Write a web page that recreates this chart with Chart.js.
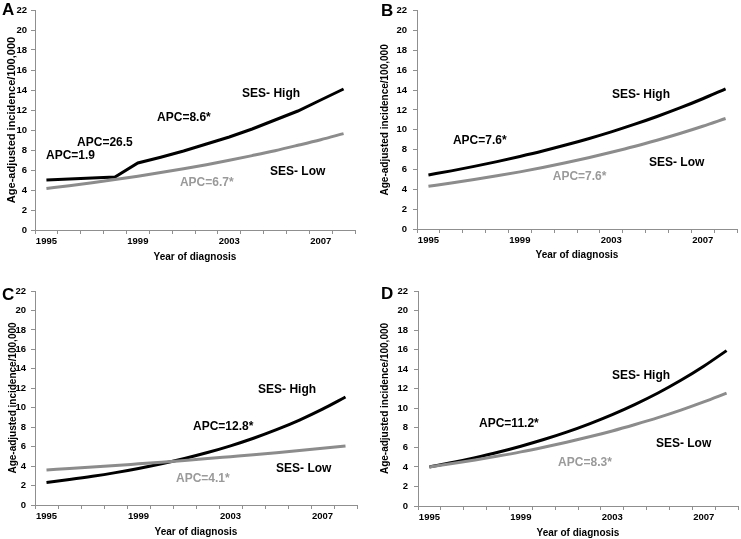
<!DOCTYPE html>
<html><head><meta charset="utf-8">
<script src="https://cdn.jsdelivr.net/npm/chart.js@4.4.1/dist/chart.umd.min.js"></script>
<style>
html,body{margin:0;padding:0;background:#fff;width:741px;height:539px;overflow:hidden;}
.p{position:absolute;}
canvas{display:block;}
</style></head><body>
<div class="p" style="left:0;top:0;"><canvas id="cA" width="370" height="270"></canvas></div>
<div class="p" style="left:370px;top:0;"><canvas id="cB" width="371" height="270"></canvas></div>
<div class="p" style="left:0;top:270px;"><canvas id="cC" width="370" height="269"></canvas></div>
<div class="p" style="left:370px;top:270px;"><canvas id="cD" width="371" height="269"></canvas></div>
<script>
// ---- data ----
const years = ['1995','1996','1997','1998','1999','2000','2001','2002','2003','2004','2005','2006','2007','2008'];
const shownYears = ['1995','1999','2003','2007'];
const yTicks = [0,2,4,6,8,10,12,14,16,18,20,22];

const highA = [5.0,5.1,5.2,5.3,6.7,7.28,7.9,8.6,9.3,10.1,11.0,11.9,13.0,14.1];
const lowA  = [4.15,4.43,4.72,5.04,5.38,5.74,6.12,6.53,6.97,7.44,7.93,8.47,9.03,9.64];
const highB = [5.45,5.86,6.31,6.79,7.31,7.86,8.46,9.10,9.79,10.54,11.34,12.20,13.13,14.13];
const lowB  = [4.30,4.63,4.98,5.36,5.76,6.20,6.67,7.18,7.73,8.31,8.95,9.63,10.36,11.14];
const highC = [2.32,2.62,2.95,3.33,3.76,4.24,4.78,5.39,6.08,6.86,7.74,8.73,9.85,11.1];
const lowC  = [3.60,3.75,3.90,4.06,4.23,4.40,4.58,4.77,4.97,5.17,5.38,5.60,5.83,6.07];
const highD = [4.00,4.45,4.95,5.50,6.12,6.80,7.56,8.41,9.35,10.40,11.56,12.86,14.30,15.90];
const lowD  = [4.00,4.34,4.71,5.11,5.54,6.02,6.53,7.08,7.68,8.34,9.04,9.81,10.65,11.55];

const seriesNames = ['SES- High','SES- Low'];
const notesA = [['SES- High',2003.56,13.6,'h'],['APC=8.6*',1999.84,11.2,'h'],['APC=26.5',1996.34,8.7,'h'],['APC=1.9',1994.98,7.4,'h'],['SES- Low',2004.78,5.8,'h'],['APC=6.7*',2000.84,4.7,'l']];
const notesB = [['SES- High',2003.03,13.56,'h'],['APC=7.6*',1996.07,8.94,'h'],['SES- Low',2004.65,6.68,'h'],['APC=7.6*',2000.44,5.3,'l']];
const notesC = [['SES- High',2004.2,11.9,'h'],['APC=12.8*',2001.37,8.1,'h'],['SES- Low',2004.98,3.7,'h'],['APC=4.1*',2000.63,2.67,'l']];
const notesD = [['SES- High',2002.99,13.3,'h'],['APC=11.2*',1997.17,8.4,'h'],['SES- Low',2004.91,6.35,'h'],['APC=8.3*',2000.63,4.4,'l']];

// ---- style ----
const FONT = '"Liberation Sans", Arial, Helvetica, sans-serif';
Chart.defaults.font.family = FONT;
const BLACK = '#000000', GRAY = '#8c8c8c', GRAY_TXT = '#9a9a9a', AXIS = '#8f8f8f';

const notesPlugin = {
  id: 'notes',
  afterDatasetsDraw(chart, args, opts) {
    const {ctx} = chart;
    const xs = chart.scales.x, ys = chart.scales.y;
    ctx.save();
    ctx.font = 'bold 12px ' + FONT;
    ctx.textAlign = 'left';
    ctx.textBaseline = 'middle';
    for (const n of opts.notes) {
      ctx.fillStyle = n[3] === 'l' ? GRAY_TXT : BLACK;
      ctx.fillText(n[0], xs.getPixelForValue(n[1] - 1995), ys.getPixelForValue(n[2]));
    }
    ctx.font = 'bold 17px ' + FONT;
    ctx.textBaseline = 'alphabetic';
    ctx.fillStyle = BLACK;
    ctx.fillText(opts.letter, opts.lx, opts.ly);
    ctx.restore();
  }
};

function makeChart(id, high, low, notes, p) {
  new Chart(document.getElementById(id), {
    type: 'line',
    data: {
      labels: years,
      datasets: [
        {label: seriesNames[1], data: low, borderColor: GRAY, borderWidth: 3, pointRadius: 0, cubicInterpolationMode: 'monotone', fill: false},
        {label: seriesNames[0], data: high, borderColor: BLACK, borderWidth: 3, pointRadius: 0,
          cubicInterpolationMode: p.kink ? 'default' : 'monotone', tension: p.kink ? 0 : 0.4, fill: false}
      ]
    },
    options: {
      responsive: false,
      animation: false,
      devicePixelRatio: 1,
      layout: {padding: {left: 0, top: p.top, right: p.right, bottom: 0}},
      plugins: {legend: {display: false}, tooltip: {enabled: false},
        notes: {notes: notes, letter: p.letter, lx: p.lx, ly: p.ly}},
      scales: {
        x: {
          type: 'category', offset: true,
          grid: {offset: true, drawOnChartArea: false, drawTicks: true, tickLength: 4, color: AXIS},
          border: {color: AXIS, width: 1},
          ticks: {autoSkip: false, maxRotation: 0, padding: 2, color: BLACK,
            font: {size: 9.5, weight: 'bold', lineHeight: 1.2},
            callback: (v, i) => shownYears.includes(years[i]) ? years[i] : ''},
          title: {display: true, text: 'Year of diagnosis', color: BLACK,
            font: {size: 10, weight: 'bold', lineHeight: 1.2}, padding: {top: 0, bottom: p.xtp}},
          afterFit(s) { s.height = p.xh; }
        },
        y: {
          min: 0, max: 22,
          afterBuildTicks(s) { s.ticks = yTicks.map(v => ({value: v})); },
          grid: {drawOnChartArea: false, drawTicks: true, tickLength: 4, color: AXIS},
          border: {color: AXIS, width: 1},
          ticks: {padding: p.ytp, color: BLACK, font: {size: 9.5, weight: 'bold', lineHeight: 1}},
          title: {display: true, text: 'Age-adjusted incidence/100,000', color: BLACK,
            font: {size: p.yts, weight: 'bold', lineHeight: 1.2}, padding: {top: p.ytitle, bottom: 0}},
          afterFit(s) { s.width = p.yw; }
        }
      }
    },
    plugins: [notesPlugin]
  });
}

makeChart('cA', highA, lowA, notesA, {kink: true, top: 10, right: 15, yw: 35, xh: 40, yts: 11, ytitle: 5, xtp: 7, ytp: 4, letter: 'A', lx: 2, ly: 15});
makeChart('cB', highB, lowB, notesB, {top: 5, right: 4, yw: 47, xh: 41, yts: 10, ytitle: 9, xtp: 9, ytp: 6, letter: 'B', lx: 11, ly: 16});
makeChart('cC', highC, lowC, notesC, {top: 21, right: 13, yw: 35, xh: 34, yts: 10, ytitle: 7, xtp: 1, ytp: 5, letter: 'C', lx: 2, ly: 30});
makeChart('cD', highD, lowD, notesD, {top: 21, right: 3, yw: 48, xh: 33, yts: 10, ytitle: 9, xtp: 0, ytp: 6, letter: 'D', lx: 11, ly: 29});
</script>
</body></html>
